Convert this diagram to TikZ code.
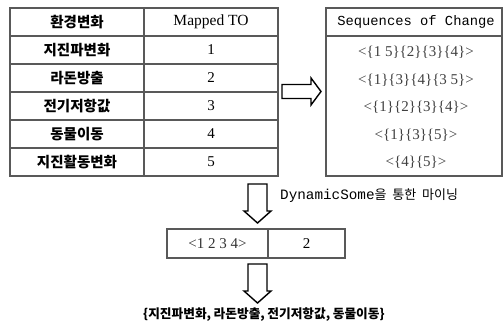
\documentclass[tikz,border=0pt]{standalone}
\usepackage{fontspec}
\setmainfont{Liberation Serif}
\newfontfamily\kr{Noto Sans CJK KR}
\newfontfamily\mono{Liberation Mono}
\begin{document}
\begin{tikzpicture}[x=1pt,y=-1pt,
  grid/.style={draw=black!65, line width=1.1pt},
  krcell/.style={font=\kr\bfseries\fontsize{14.5}{16}\selectfont, inner sep=0pt},
  numcell/.style={font=\fontsize{15}{17}\selectfont, inner sep=0pt},
  seqcell/.style={font=\fontsize{15}{17}\selectfont, text=black!75, inner sep=0pt},
  blockarrow/.style={draw=black, line width=1.4pt, fill=white, line join=miter}]
\useasboundingbox (0,0) rectangle (503,327);
% left table
\draw[grid] (10,8) rectangle (278,176);
\draw[grid] (144,8) -- (144,176);
\foreach \y in {36,64,92,120,148} \draw[grid] (10,\y) -- (278,\y);
\node[krcell] (h1) at (77,22) {환경변화};
\node[numcell, font=\fontsize{15.5}{17}\selectfont] (h2) at (211,22) {Mapped TO};
\node[krcell] (k1) at (77,50) {지진파변화};
\node[krcell] (k2) at (77,78) {라돈방출};
\node[krcell] (k3) at (77,106) {전기저항값};
\node[krcell] (k4) at (77,134) {동물이동};
\node[krcell] (k5) at (77,162) {지진활동변화};
\node[numcell] (n1) at (211,50) {1};
\node[numcell] (n2) at (211,78) {2};
\node[numcell] (n3) at (211,106) {3};
\node[numcell] (n4) at (211,134) {4};
\node[numcell] (n5) at (211,162) {5};
% right box
\draw[grid] (326,8) rectangle (502,176);
\draw[grid] (326,36) -- (502,36);
\node[font=\mono\fontsize{13.8}{16}\selectfont, inner sep=0pt] (sh) at (416,22) {Sequences of Change};
\node[seqcell] (s1) at (416,52) {<\{1 5\}\{2\}\{3\}\{4\}>};
\node[seqcell] (s2) at (416,80) {<\{1\}\{3\}\{4\}\{3 5\}>};
\node[seqcell] (s3) at (416,107) {<\{1\}\{2\}\{3\}\{4\}>};
\node[seqcell] (s4) at (416,135) {<\{1\}\{3\}\{5\}>};
\node[seqcell] (s5) at (416,162) {<\{4\}\{5\}>};
% right arrow
\coordinate (ra) at (282,91.5);
\draw[blockarrow] (ra) ++(0,-7) -- ++(29,0) -- ++(0,-6.5) -- ++(10,13.5) -- ++(-10,13.5) -- ++(0,-6.5) -- ++(-29,0) -- cycle;
% down arrow 1
\coordinate (da1) at (257.5,184);
\draw[blockarrow] (da1) ++(-9.5,0) -- ++(19,0) -- ++(0,27) -- ++(4,0) -- ++(-13.5,12) -- ++(-13.5,-12) -- ++(4,0) -- cycle;
\node[anchor=west, inner sep=0pt] (lbl) at (280,196) {{\mono\fontsize{14.3}{15}\selectfont DynamicSome}{\kr\fontsize{13}{15}\selectfont 을\hspace{0.45em}통한\hspace{0.45em}마이닝}};
% bottom box
\draw[grid] (167,229) rectangle (345,258);
\draw[grid] (268,229) -- (268,258);
\node[numcell, text=black!80] (b1) at (217.5,243.5) {<1 2 3 4>};
\node[numcell] (b2) at (306.5,243.5) {2};
% down arrow 2
\coordinate (da2) at (257.5,264);
\draw[blockarrow] (da2) ++(-9.5,0) -- ++(19,0) -- ++(0,27) -- ++(4,0) -- ++(-13.5,12) -- ++(-13.5,-12) -- ++(4,0) -- cycle;
\node[font=\kr\bfseries\fontsize{12.7}{15}\selectfont, inner sep=0pt, anchor=west] (res) at (143,315) {\{지진파변화,\hspace{0.2em}라돈방출,\hspace{0.2em}전기저항값,\hspace{0.2em}동물이동\}};
\end{tikzpicture}
\end{document}
